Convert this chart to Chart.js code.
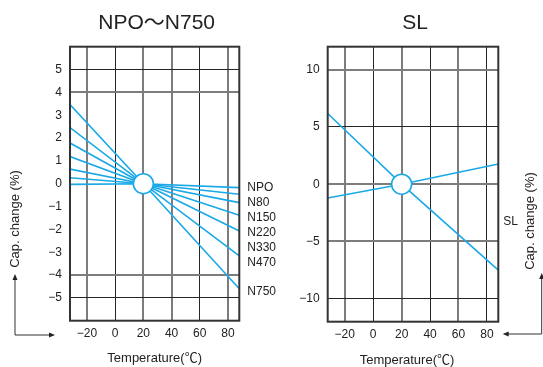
<!DOCTYPE html>
<html>
<head>
<meta charset="utf-8">
<script src="https://cdn.jsdelivr.net/npm/chart.js@4/dist/chart.umd.min.js"></script>
<style>
  html, body { margin: 0; padding: 0; background: #fff; }
  #wrap { position: relative; width: 543px; height: 367px; overflow: hidden; }
  canvas { position: absolute; top: 0; }
</style>
</head>
<body>
<div id="wrap">
  <canvas id="c1" width="300" height="367" style="left:0"></canvas>
  <canvas id="c2" width="253" height="367" style="left:290px"></canvas>
</div>
<script>
// ---------------- DATA ----------------
// temperatures (°C) at which the lines are read: left edge, reference point, right edge
const temps = [-32, 20, 88];
// left chart series (cap. change %)
const seriesNames = ['NPO', 'N80', 'N150', 'N220', 'N330', 'N470', 'N750'];
const npo  = [-0.03, 0, -0.17];
const n80  = [0.26, 0, -0.46];
const n150 = [0.64, 0, -0.83];
const n220 = [1.19, 0, -1.38];
const n330 = [1.78, 0, -2.07];
const n470 = [2.46, 0, -3.16];
const n750 = [3.47, 0, -4.60];
const leftSeries = [npo, n80, n150, n220, n330, n470, n750];
// right chart series (SL)
const slUpper = [6.17, 0, -7.5];
const slLower = [-1.2, 0, 1.77];
// reference point (circle)
const refPoint = { x: 20, y: 0 };
// tick labels
const xTicks = [-20, 0, 20, 40, 60, 80];
const yTicksLeft = [5, 4, 3, 2, 1, 0, -1, -2, -3, -4, -5];
const yTicksRight = [10, 5, 0, -5, -10];
// --------------------------------------

const BLUE = '#1aa9e8';
const FONT = '"Liberation Sans", "Noto Sans CJK KR", sans-serif';
const GRAY = '#7d7d7d', DARK = '#262626';

function fmt(v) { return v < 0 ? '\u2212' + Math.abs(v) : String(v); }
function pts(ys) { return temps.map((t, i) => ({ x: t, y: ys[i] })); }

function arrowHead(ctx, x, y, dir) {
  ctx.beginPath();
  if (dir === 'up') { ctx.moveTo(x, y); ctx.lineTo(x - 2.5, y + 6); ctx.lineTo(x + 2.5, y + 6); }
  if (dir === 'right') { ctx.moveTo(x, y); ctx.lineTo(x - 6, y - 2.5); ctx.lineTo(x - 6, y + 2.5); }
  if (dir === 'left') { ctx.moveTo(x, y); ctx.lineTo(x + 6, y - 2.5); ctx.lineTo(x + 6, y + 2.5); }
  ctx.closePath(); ctx.fill();
}

function decoPlugin(cfg) {
  return {
    id: 'deco',
    afterDraw(chart) {
      const ctx = chart.ctx, a = chart.chartArea, ys = chart.scales.y;
      ctx.save();
      // frame
      ctx.strokeStyle = '#333'; ctx.lineWidth = 2;
      ctx.strokeRect(a.left, a.top, a.right - a.left, a.bottom - a.top);
      ctx.fillStyle = '#222'; ctx.strokeStyle = '#333';
      // title
      ctx.font = '21px ' + FONT; ctx.textAlign = 'center'; ctx.textBaseline = 'alphabetic';
      ctx.fillText(cfg.title, (a.left + a.right) / 2 + cfg.titleDx, 29);
      // x title
      ctx.font = '13px ' + FONT;
      ctx.fillText('Temperature(\u2103)', (a.left + a.right) / 2 + cfg.xTitleDx, cfg.xTitleY);
      // y title (rotated)
      ctx.save();
      ctx.translate(cfg.yTitleX, cfg.yTitleY);
      ctx.rotate(-Math.PI / 2);
      ctx.textAlign = 'center';
      ctx.fillText('Cap. change (%)', 0, 0);
      ctx.restore();
      // arrow
      ctx.lineWidth = 1;
      ctx.beginPath();
      ctx.moveTo(cfg.arrowX, cfg.arrowTop + 4);
      ctx.lineTo(cfg.arrowX, cfg.arrowBottom);
      ctx.lineTo(cfg.arrowEndX + (cfg.arrowDir === 'right' ? -4 : 4), cfg.arrowBottom);
      ctx.stroke();
      arrowHead(ctx, cfg.arrowX, cfg.arrowTop, 'up');
      arrowHead(ctx, cfg.arrowEndX, cfg.arrowBottom, cfg.arrowDir);
      // series labels
      ctx.font = '12px ' + FONT; ctx.textAlign = 'left'; ctx.textBaseline = 'middle';
      cfg.labels.forEach((name, i) => {
        ctx.fillText(name, a.right + cfg.labelDx, ys.getPixelForValue(cfg.labelAt[i]));
      });
      ctx.restore();
    }
  };
}

function makeChart(id, opts) {
  const datasets = [{
    data: [refPoint], pointRadius: 10, pointBackgroundColor: '#fff',
    pointBorderColor: BLUE, pointBorderWidth: 1.6, showLine: false
  }].concat(opts.lines.map(ys => ({
    data: pts(ys), showLine: true, borderColor: BLUE, borderWidth: 1.6,
    pointRadius: 0, fill: false, tension: 0
  })));
  return new Chart(document.getElementById(id), {
    type: 'scatter',
    data: { datasets },
    options: {
      responsive: false, animation: false, devicePixelRatio: 1,
      layout: { padding: { top: 46.7, right: opts.padRight, left: 0, bottom: 0 } },
      plugins: { legend: { display: false }, tooltip: { enabled: false }, title: { display: false } },
      scales: {
        x: {
          type: 'linear', min: -32, max: 88,
          afterBuildTicks: s => { s.ticks = xTicks.map(v => ({ value: v })); },
          afterFit: s => { s.height = opts.xAxisH; },
          border: { display: false },
          grid: {
            drawTicks: false,
            color: c => opts.vDark.includes(c.tick.value) ? DARK : GRAY,
            lineWidth: c => opts.vDark.includes(c.tick.value) ? 1 : 2
          },
          ticks: { padding: 6, color: '#222', font: { family: FONT, size: 12 }, callback: fmt }
        },
        y: {
          type: 'linear', min: opts.yMin, max: opts.yMax,
          afterBuildTicks: s => { s.ticks = opts.yTicks.map(v => ({ value: v })); },
          afterFit: s => { s.width = opts.yAxisW; },
          border: { display: false },
          grid: {
            drawTicks: false,
            color: c => opts.hDark.includes(c.tick.value) ? DARK : (opts.hGray.includes(c.tick.value) ? GRAY : 'rgba(0,0,0,0)'),
            lineWidth: c => opts.hDark.includes(c.tick.value) ? 1 : (opts.hGray.includes(c.tick.value) ? 2 : 0)
          },
          ticks: { padding: 8, color: '#222', font: { family: FONT, size: 12 }, callback: fmt }
        }
      }
    },
    plugins: [decoPlugin(opts.deco)]
  });
}

makeChart('c1', {
  lines: leftSeries, yMin: -6, yMax: 6, yTicks: yTicksLeft,
  padRight: 300 - 239.3, yAxisW: 70, xAxisH: 367 - 320.7,
  vDark: [0, 60], hDark: [5, -5], hGray: [4, -4],
  deco: {
    title: 'NPO\uFF5EN750', titleDx: 2, xTitleDx: 0, xTitleY: 362,
    yTitleX: 19, yTitleY: 219,
    arrowX: 15, arrowTop: 274, arrowBottom: 335, arrowEndX: 55, arrowDir: 'right',
    labels: seriesNames, labelDx: 8,
    labelAt: [-0.17, -0.84, -1.49, -2.14, -2.79, -3.44, -4.73]
  }
});

makeChart('c2', {
  lines: [slUpper, slLower], yMin: -12, yMax: 12, yTicks: yTicksRight,
  padRight: 253 - 208.3, yAxisW: 37.7, xAxisH: 367 - 321.7,
  vDark: [0, 40, 80], hDark: [5, -10], hGray: [10, 0, -5],
  deco: {
    title: 'SL', titleDx: 2, xTitleDx: -6, xTitleY: 364,
    yTitleX: 244, yTitleY: 221,
    arrowX: 251.7, arrowTop: 273, arrowBottom: 334, arrowEndX: 212.7, arrowDir: 'left',
    labels: ['SL'], labelDx: 5, labelAt: [-3.3]
  }
});
</script>
</body>
</html>
